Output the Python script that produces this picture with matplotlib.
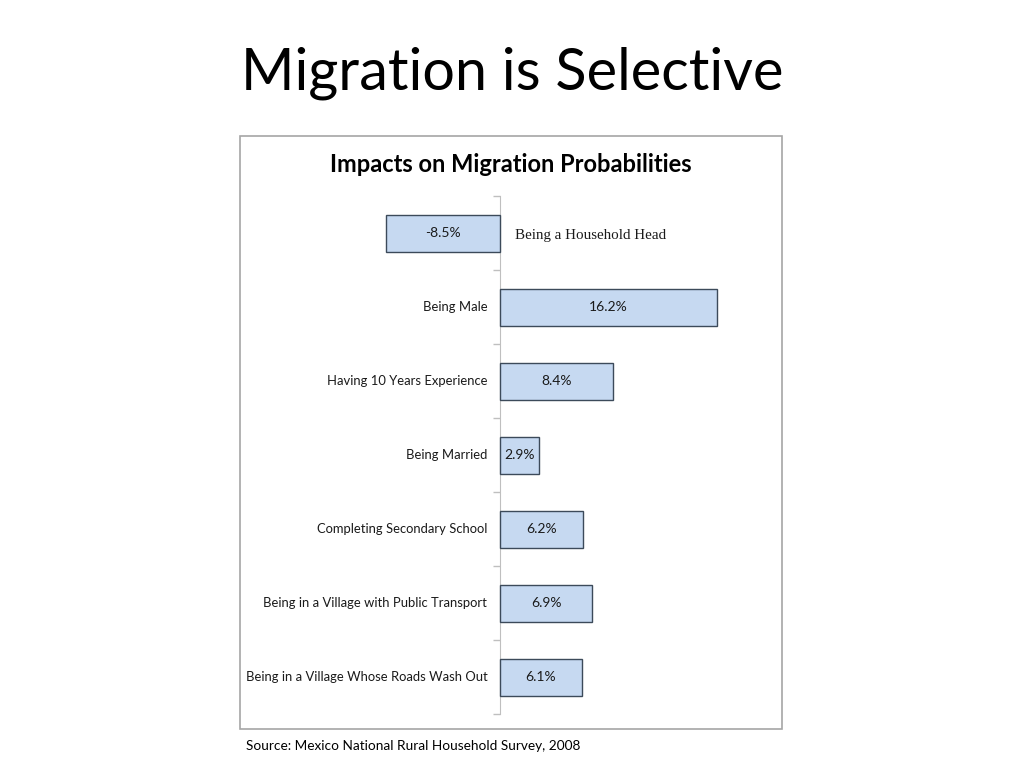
import matplotlib.pyplot as plt
from matplotlib.patches import Rectangle
import numpy as np

# chart data
categories = [
    "Being a Household Head",
    "Being Male",
    "Having 10 Years Experience",
    "Being Married",
    "Completing Secondary School",
    "Being in a Village with Public Transport",
    "Being in a Village Whose Roads Wash Out",
]
values = [-8.5, 16.2, 8.4, 2.9, 6.2, 6.9, 6.1]
value_labels = ["-8.5%", "16.2%", "8.4%", "2.9%", "6.2%", "6.9%", "6.1%"]

W, H = 1024, 768
fig = plt.figure(figsize=(W / 100, H / 100), dpi=100)
fig.patch.set_facecolor("white")


def fx(px):
    return px / W


def fy(py):
    return 1 - py / H


# slide title
fig.text(fx(512), fy(73), "Migration is Selective", ha="center", va="center",
         fontsize=41.5, family="Lato", color="black")

# chart frame
fig.patches.append(Rectangle((fx(240), fy(729)), fx(782) - fx(240), fy(136) - fy(729),
                             transform=fig.transFigure, fill=False,
                             edgecolor="#a6a6a6", linewidth=1.2))

fig.text(fx(511), fy(164), "Impacts on Migration Probabilities", ha="center",
         va="center", fontsize=17, fontweight="bold", family="Lato", color="black")

fig.text(fx(246), fy(746), "Source: Mexico National Rural Household Survey, 2008",
         ha="left", va="center", fontsize=9.8, family="Lato", color="black")

# plot area: x=0 at 500px, 13.4 px per percent
x_lo, x_hi = -15, 20
scale = 13.4
left_px = 500 + x_lo * scale
right_px = 500 + x_hi * scale
ax = fig.add_axes([fx(left_px), fy(714), fx(right_px) - fx(left_px), fy(196) - fy(714)])
ax.set_xlim(x_lo, x_hi)
n = len(categories)
ax.set_ylim(n - 0.5, -0.5)
ax.patch.set_alpha(0)

y = np.arange(n)
ax.barh(y, values, height=0.5, color="#c6d9f1", edgecolor="#3c4a5a", linewidth=1.0,
        zorder=2)

for yi, v, lab in zip(y, values, value_labels):
    ax.text(v / 2, yi, lab, ha="center", va="center", fontsize=10,
            family="Lato", color="#1a1a1a", zorder=3)

for yi, v, cat in zip(y, values, categories):
    if v < 0:
        ax.text(1.12, yi + 0.03, cat, ha="left", va="center", fontsize=10.8,
                family="Liberation Serif", color="#1a1a1a")
    else:
        ax.text(-0.95, yi, cat, ha="right", va="center", fontsize=9.35,
                family="Lato", color="#1a1a1a")

for s in ["top", "right", "bottom"]:
    ax.spines[s].set_visible(False)
ax.spines["left"].set_position(("data", 0))
ax.spines["left"].set_color("#bfbfbf")
ax.spines["left"].set_zorder(1)
ax.set_xticks([])
ax.set_yticks(np.arange(n + 1) - 0.5)
ax.set_yticklabels([])
ax.tick_params(axis="y", direction="out", length=5, color="#bfbfbf", width=1)

fig.savefig("out.png", dpi=100)
